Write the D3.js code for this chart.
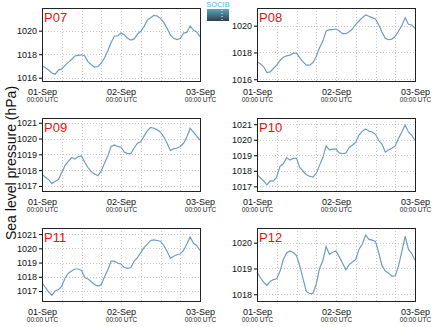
<!DOCTYPE html>
<html><head><meta charset="utf-8">
<script src="https://cdn.jsdelivr.net/npm/d3@7/dist/d3.min.js"></script>
<style>
html,body{margin:0;padding:0;background:#fff;}
svg{display:block;font-family:"Liberation Sans",Arial,sans-serif;}
</style></head><body>
<svg id="c" width="434" height="327"></svg>
<script>
// hourly samples from 01-Sep 00:00 UTC to 03-Sep 00:00 UTC
const hours = d3.range(0, 49);
const stations = ["P07","P08","P09","P10","P11","P12"];
const p07 = [1017.02,1016.85,1016.65,1016.4,1016.3,1016.65,1016.75,1017.05,1017.3,1017.55,1017.85,1017.9,1017.95,1017.85,1017.35,1017.1,1016.9,1016.95,1017.25,1017.7,1018.3,1019.0,1019.55,1019.55,1019.8,1019.65,1019.35,1019.2,1019.3,1019.7,1019.95,1020.35,1020.9,1021.1,1021.3,1021.25,1021.05,1020.7,1020.2,1019.65,1019.35,1019.25,1019.35,1019.8,1019.85,1020.4,1020.05,1019.9,1019.5];
const p08 = [1017.3,1017.15,1016.95,1016.5,1016.55,1016.8,1017.05,1017.4,1017.65,1017.75,1017.8,1017.95,1017.95,1017.6,1017.3,1017.05,1017.05,1017.25,1017.7,1018.35,1018.85,1019.6,1019.7,1019.7,1019.75,1019.6,1019.4,1019.4,1019.55,1019.75,1020.1,1020.35,1020.6,1020.8,1020.7,1020.6,1020.5,1020.05,1019.5,1019.05,1018.95,1019.0,1019.2,1019.6,1020.0,1020.6,1020.1,1020.05,1019.8];
const p09 = [1017.75,1017.55,1017.4,1017.15,1017.3,1017.4,1017.85,1018.3,1018.55,1018.8,1018.7,1018.85,1018.9,1018.5,1018.15,1017.9,1017.75,1017.65,1017.95,1018.45,1018.9,1019.5,1019.6,1019.5,1019.45,1019.15,1019.05,1019.05,1019.4,1019.7,1019.8,1020.15,1020.5,1020.7,1020.65,1020.55,1020.4,1020.1,1019.7,1019.25,1019.35,1019.4,1019.5,1019.7,1020.1,1020.65,1020.4,1020.15,1019.9];
const p10 = [1017.75,1017.55,1017.35,1017.1,1017.35,1017.35,1017.6,1018.3,1018.45,1018.85,1018.7,1018.8,1018.8,1018.2,1018.0,1017.75,1017.65,1017.6,1017.85,1018.35,1018.85,1019.6,1019.35,1019.4,1019.4,1019.15,1019.1,1019.15,1019.5,1019.65,1019.85,1020.3,1020.55,1020.7,1020.55,1020.5,1020.35,1019.95,1019.7,1019.2,1019.35,1019.45,1019.6,1020.1,1020.5,1020.95,1020.5,1020.3,1019.95];
const p11 = [1017.6,1017.25,1016.95,1016.7,1017.0,1017.1,1017.35,1017.9,1018.25,1018.4,1018.55,1018.55,1018.45,1017.95,1017.85,1017.65,1017.45,1017.35,1017.45,1018.0,1018.5,1019.1,1019.1,1018.95,1018.9,1018.65,1018.6,1018.65,1019.1,1019.35,1019.7,1020.05,1020.3,1020.55,1020.6,1020.55,1020.5,1020.2,1019.8,1019.3,1019.45,1019.55,1019.6,1019.85,1020.3,1020.8,1020.35,1020.2,1019.85];
const p12 = [1018.87,1018.65,1018.47,1018.35,1018.5,1018.57,1018.6,1018.9,1019.35,1019.6,1019.68,1019.62,1019.5,1019.1,1018.6,1018.1,1018.03,1018.03,1018.4,1019.0,1019.3,1019.85,1019.55,1019.63,1019.68,1019.45,1019.2,1018.95,1019.15,1019.25,1019.35,1019.75,1019.95,1020.3,1020.13,1020.1,1020.05,1019.6,1019.1,1018.9,1018.82,1018.7,1018.72,1019.1,1019.65,1020.25,1019.75,1019.58,1019.32];
const seriesValues = [p07,p08,p09,p10,p11,p12];
const yDomains = [[1015.72,1021.93],[1015.87,1021.32],[1016.68,1021.3],[1016.7,1021.4],[1016.3,1021.43],[1017.74,1020.57]];
const yTicks = [[1016,1018,1020],[1016,1018,1020],[1017,1018,1019,1020,1021],[1017,1018,1019,1020,1021],[1017,1018,1019,1020,1021],[1018,1019,1020]];
const dateLabels = ["01-Sep","02-Sep","03-Sep"];
const timeLabel = "00:00 UTC";
const yTitle = "Sea level pressure (hPa)";
const logoText = "SOCIB";

const svg = d3.select("#c");
const t0 = Date.UTC(2000,8,1,0,0);
const toDate = h => new Date(t0 + h*3600e3);
const colX = [42, 257], rowY = [8, 118, 228];
const pw = 158, ph = 73;

stations.forEach((name, i) => {
  const px = colX[i % 2], py = rowY[Math.floor(i / 2)];
  const g = svg.append("g").attr("transform", `translate(${px},${py})`);
  const x = d3.scaleUtc().domain([toDate(0), toDate(48)]).range([0, pw]);
  const y = d3.scaleLinear().domain(yDomains[i]).range([ph, 0]);

  // grid
  const vGrid = d3.range(6, 48, 6).map(toDate);
  g.append("g").selectAll("line").data(vGrid).join("line")
    .attr("x1", d => Math.round(x(d)) + 0.5).attr("x2", d => Math.round(x(d)) + 0.5)
    .attr("y1", 0).attr("y2", ph)
    .attr("stroke", "#c8c8c8").attr("stroke-dasharray", "1,2");
  g.append("g").selectAll("line").data(yTicks[i]).join("line")
    .attr("x1", 0).attr("x2", pw)
    .attr("y1", d => Math.round(y(d)) + 0.5).attr("y2", d => Math.round(y(d)) + 0.5)
    .attr("stroke", "#c8c8c8").attr("stroke-dasharray", "1,2");

  // line
  const line = d3.line().x(h => x(toDate(h))).y((h, k) => y(seriesValues[i][k]));
  g.append("path").datum(hours).attr("d", line)
    .attr("fill", "none").attr("stroke", "#6f9cc6").attr("stroke-width", 1.2);

  // axes
  const yAx = g.append("g").call(d3.axisLeft(y).tickValues(yTicks[i]).tickSize(3).tickPadding(2).tickFormat(d3.format("d")));
  yAx.select(".domain").remove();
  yAx.selectAll("text").attr("font-size", 9).attr("fill", "#111").style("font-family", "Liberation Sans, Arial, sans-serif");
  yAx.selectAll("line").attr("stroke", "#000");

  const xTickDates = [0, 24, 48].map(toDate);
  const xAx = g.append("g").attr("transform", `translate(0,${ph})`)
    .call(d3.axisBottom(x).tickValues(xTickDates).tickSize(0).tickPadding(8).tickFormat((d, k) => dateLabels[k]));
  xAx.select(".domain").remove();
  xAx.selectAll("text").attr("font-size", 9).attr("fill", "#111").style("font-family", "Liberation Sans, Arial, sans-serif");
  xAx.selectAll(".tick").append("text").attr("y", 21).attr("font-size", 6.5).attr("fill", "#222")
    .attr("text-anchor", "middle").style("font-family", "Liberation Sans, Arial, sans-serif").text(timeLabel);

  // frame
  g.append("rect").attr("x", 0.5).attr("y", 0.5).attr("width", pw).attr("height", ph)
    .attr("fill", "none").attr("stroke", "#222").attr("stroke-width", 1);

  // station label
  g.append("text").attr("x", 2).attr("y", 14).attr("font-size", 13).attr("fill", "#e8110f").text(name);
});

svg.append("text").attr("transform", "translate(16,163) rotate(-90)")
  .attr("text-anchor", "middle").attr("font-size", 14).attr("fill", "#111").text(yTitle);

// logo
const grad = svg.append("defs").append("linearGradient").attr("id", "lg").attr("x1", 0).attr("y1", 0).attr("x2", 0).attr("y2", 1);
grad.append("stop").attr("offset", 0).attr("stop-color", "#5aa7bd");
grad.append("stop").attr("offset", 1).attr("stop-color", "#2f3d4c");
svg.append("text").attr("x", 218).attr("y", 7).attr("text-anchor", "middle").attr("font-size", 7.5).attr("fill", "#46b8d4").text(logoText);
svg.append("rect").attr("x", 207).attr("y", 9).attr("width", 22).attr("height", 12).attr("fill", "url(#lg)");
svg.append("line").attr("x1", 222).attr("x2", 222).attr("y1", 10).attr("y2", 20).attr("stroke", "#fff").attr("stroke-dasharray", "1,2");
</script>
</body></html>
